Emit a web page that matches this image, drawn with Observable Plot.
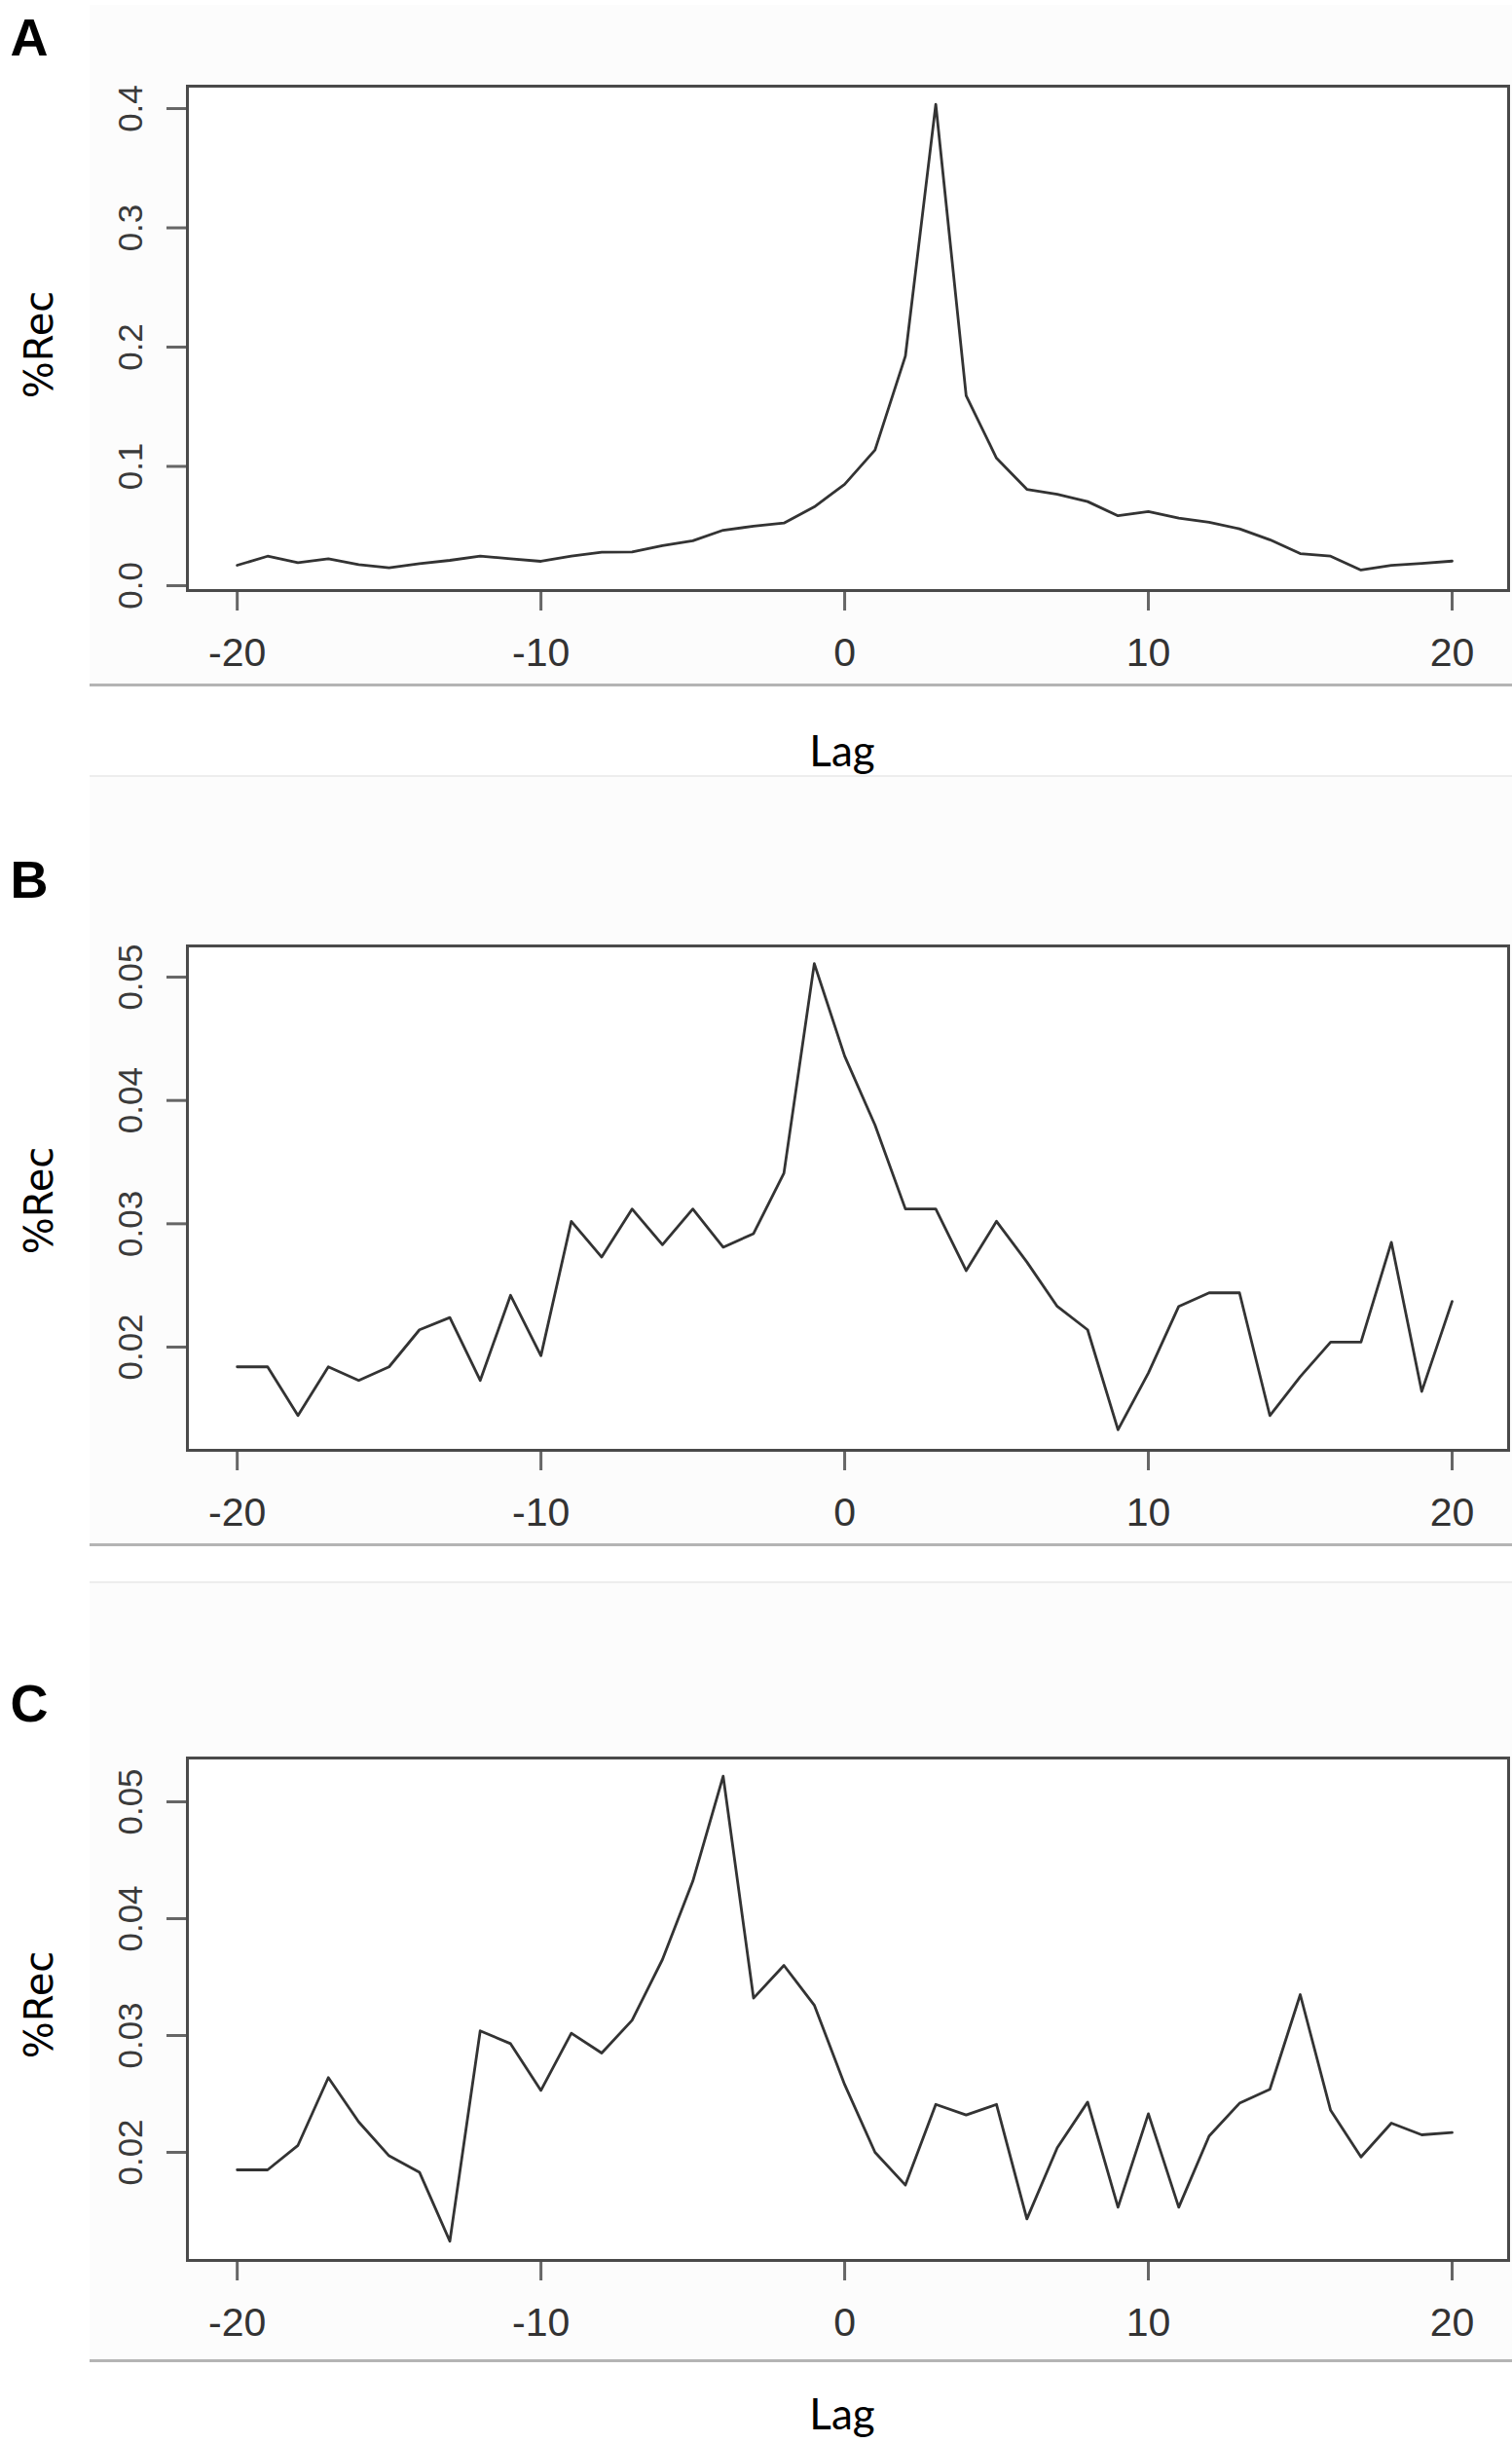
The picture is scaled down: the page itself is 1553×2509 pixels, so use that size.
<!DOCTYPE html>
<html>
<head>
<meta charset="utf-8">
<script src="https://cdn.jsdelivr.net/npm/d3@7"></script>
<script src="https://cdn.jsdelivr.net/npm/@observablehq/plot@0.6"></script>
<style>
  html, body { margin: 0; padding: 0; background: #ffffff; }
  #fig { position: relative; width: 1553px; height: 2509px; overflow: hidden; background: #ffffff; }
  .bg { position: absolute; background: #fcfcfc; }
  .sep { position: absolute; height: 3px; background: #b4b4b4; }
  .faint { position: absolute; height: 2px; background: #ededed; }
  .panel { position: absolute; left: 0; }
  .lbl { position: absolute; transform: translate(-50%, -50%); line-height: 1; white-space: nowrap; color: #000; }
  .letter { font-family: "Liberation Sans", Arial, sans-serif; font-weight: bold; font-size: 54px; }
  .ylab { font-family: "DejaVu Sans", sans-serif; font-size: 40px; transform: translate(-50%, -50%) rotate(-90deg); }
  .xlab { font-family: Lato, "Open Sans", sans-serif; font-size: 44px; }
</style>
</head>
<body>
<div id="fig"></div>
<script>
// ---- data ----
const lags = [-20,-19,-18,-17,-16,-15,-14,-13,-12,-11,-10,-9,-8,-7,-6,-5,-4,-3,-2,-1,0,1,2,3,4,5,6,7,8,9,10,11,12,13,14,15,16,17,18,19,20];

const recA = [0.0171,0.0247,0.0193,0.0226,0.0177,0.0150,0.0185,0.0212,0.0247,0.0226,0.0204,0.0247,0.0280,0.0282,0.0335,0.0376,0.0465,0.0498,0.0525,0.0661,0.0850,0.1138,0.1925,0.4036,0.1593,0.1069,0.0808,0.0766,0.0705,0.0586,0.0622,0.0567,0.0531,0.0476,0.0385,0.0269,0.0247,0.0131,0.0171,0.0186,0.0206];

const recB = [0.0184,0.0184,0.01445,0.0184,0.0173,0.0184,0.0214,0.0224,0.0173,0.0242,0.0193,0.0302,0.0273,0.0312,0.0283,0.0312,0.0281,0.0292,0.0341,0.0511,0.0436,0.0380,0.0312,0.0312,0.0262,0.0302,0.0269,0.0233,0.0214,0.0133,0.0179,0.0233,0.0244,0.0244,0.01445,0.0176,0.0204,0.0204,0.0285,0.0164,0.0237];

const recC = [0.0185,0.0185,0.0206,0.0264,0.0226,0.0197,0.0183,0.0124,0.0304,0.0293,0.0253,0.0302,0.0285,0.0313,0.0365,0.0432,0.0522,0.0332,0.0360,0.0326,0.0258,0.0200,0.0172,0.0241,0.0232,0.0241,0.0143,0.0204,0.0243,0.0153,0.0233,0.0153,0.0214,0.0242,0.0254,0.0335,0.0236,0.0196,0.0225,0.0215,0.0217];

const xTicks = [-20, -10, 0, 10, 20];
const yTicksA = [0.0, 0.1, 0.2, 0.3, 0.4];
const yTicksBC = [0.02, 0.03, 0.04, 0.05];
const panelLetters = ["A", "B", "C"];
const yLabel = "%Rec";
const xLabel = "Lag";

// ---- layout (pixels) ----
const panels = [
  {letter: panelLetters[0], values: recA, yTicks: yTicksA, fmt: d3.format(".1f"),
   top: 0, height: 800, mt: 88, mb: 194, ydom: [-0.0041, 0.4188],
   bgTop: 5, bgBottom: 703, sep: 703, faint: null,
   letterPos: [30, 38], ylabPos: [40, 354], xlabPos: [865, 770]},
  {letter: panelLetters[1], values: recB, yTicks: yTicksBC, fmt: d3.format(".2f"),
   top: 800, height: 825, mt: 171, mb: 136, ydom: [0.01163, 0.05253],
   bgTop: 796, bgBottom: 1586, sep: 1586, faint: 796,
   letterPos: [30, 903], ylabPos: [40, 1233], xlabPos: [865, 1648]},
  {letter: panelLetters[2], values: recC, yTicks: yTicksBC, fmt: d3.format(".2f"),
   top: 1625, height: 884, mt: 180, mb: 188, ydom: [0.01075, 0.05375],
   bgTop: 1624, bgBottom: 2424, sep: 2424, faint: 1624,
   letterPos: [30, 1749], ylabPos: [40, 2059], xlabPos: [865, 2478]}
];

const fig = document.getElementById("fig");

function addDiv(cls, style, text) {
  const d = document.createElement("div");
  d.className = cls;
  Object.assign(d.style, style);
  if (text != null) d.textContent = text;
  fig.appendChild(d);
  return d;
}

for (const p of panels) {
  addDiv("bg", {left: "92px", width: (1553 - 92) + "px", top: p.bgTop + "px", height: (p.bgBottom - p.bgTop) + "px"});
  if (p.faint != null) addDiv("faint", {left: "92px", width: (1553 - 92) + "px", top: p.faint + "px"});
  addDiv("sep", {left: "92px", width: (1553 - 92) + "px", top: (p.sep - 1) + "px"});

  const data = lags.map((lag, i) => ({lag, v: p.values[i]}));

  const chart = Plot.plot({
    width: 1553,
    height: p.height,
    marginLeft: 192,
    marginRight: 4,
    marginTop: p.mt,
    marginBottom: p.mb,
    style: {background: "transparent", fontFamily: "Liberation Sans, Arial, sans-serif", overflow: "visible"},
    x: {domain: [-21.64, 21.86], nice: false},
    y: {domain: p.ydom, nice: false, zero: false},
    marks: [
      Plot.frame({fill: "white", stroke: "none"}),
      Plot.axisX({ticks: xTicks, tickSize: 21, tickPadding: 27, fontSize: 41,
                  tickFormat: d => String(d), label: null, color: "#333", strokeWidth: 3, stroke: "#666"}),
      Plot.axisY({ticks: p.yTicks, tickSize: 21, tickPadding: 26, fontSize: 35, tickRotate: -90,
                  tickFormat: p.fmt, label: null, color: "#3a3a3a", strokeWidth: 3, stroke: "#666"}),
      Plot.lineY(data, {x: "lag", y: "v", stroke: "#333", strokeWidth: 2.8}),
      Plot.frame({stroke: "#4a4a4a", strokeWidth: 3})
    ]
  });
  const wrap = document.createElement("div");
  wrap.className = "panel";
  wrap.style.top = p.top + "px";
  wrap.appendChild(chart);
  fig.appendChild(wrap);

  addDiv("lbl letter", {left: p.letterPos[0] + "px", top: p.letterPos[1] + "px"}, p.letter);
  addDiv("lbl ylab", {left: p.ylabPos[0] + "px", top: p.ylabPos[1] + "px"}, yLabel);
  addDiv("lbl xlab", {left: p.xlabPos[0] + "px", top: p.xlabPos[1] + "px"}, xLabel);
}
</script>
</body>
</html>
